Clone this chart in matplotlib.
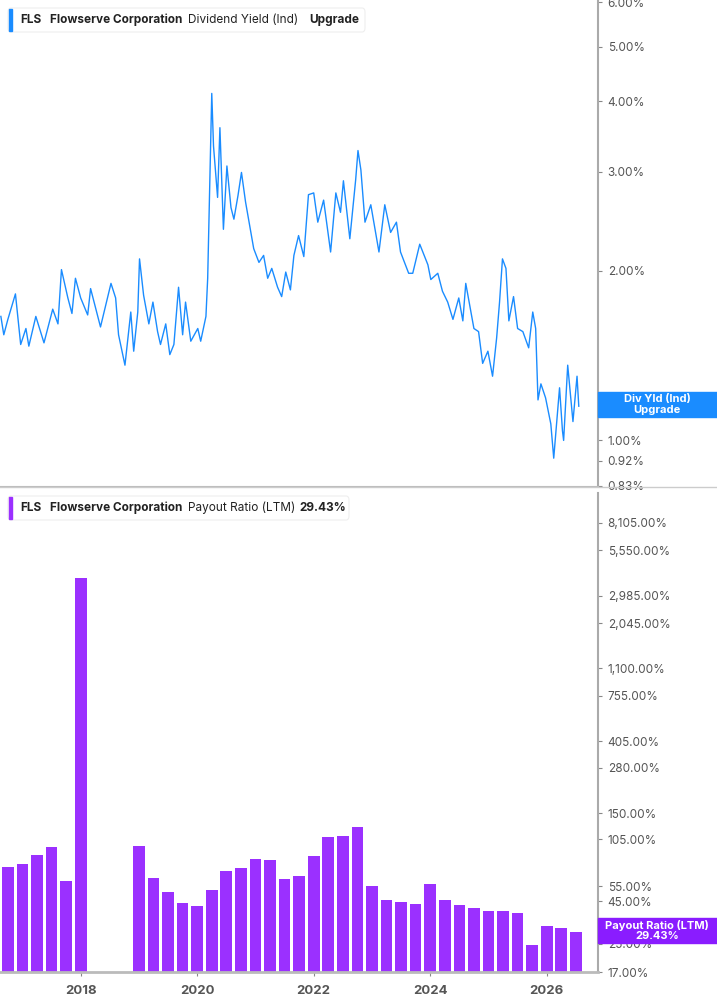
import matplotlib
matplotlib.use('Agg')
import matplotlib.pyplot as plt
from matplotlib.patches import Rectangle, FancyBboxPatch
import numpy as np

plt.rcParams['font.family'] = ['Inter', 'DejaVu Sans']

# dividend yield (%)
yld_dates = [16.63, 16.68, 16.75, 16.88, 16.97, 17.06, 17.11, 17.23, 17.37, 17.52, 17.61, 17.67, 17.78, 17.85,
             17.91, 18.00, 18.12, 18.17, 18.34, 18.52, 18.60, 18.65, 18.76, 18.86, 18.91, 18.98, 19.01, 19.08,
             19.17, 19.24, 19.32, 19.37, 19.46, 19.53, 19.60, 19.68, 19.75, 19.80, 19.89, 20.01, 20.06, 20.15,
             20.18, 20.21, 20.25, 20.28, 20.35, 20.39, 20.45, 20.51, 20.58, 20.63, 20.70, 20.76, 20.83, 20.90,
             20.97, 21.06, 21.14, 21.21, 21.28, 21.38, 21.45, 21.52, 21.60, 21.66, 21.74, 21.83, 21.91, 22.00,
             22.07, 22.17, 22.29, 22.38, 22.46, 22.51, 22.62, 22.72, 22.76, 22.81, 22.88, 22.98, 23.12, 23.22,
             23.32, 23.42, 23.49, 23.63, 23.70, 23.82, 23.96, 24.01, 24.13, 24.21, 24.30, 24.39, 24.49, 24.56,
             24.61, 24.75, 24.83, 24.90, 24.99, 25.07, 25.14, 25.19, 25.24, 25.30, 25.35, 25.43, 25.50, 25.59,
             25.69, 25.76, 25.81, 25.85, 25.90, 25.98, 26.07, 26.12, 26.19, 26.22, 26.27, 26.29, 26.36, 26.45,
             26.52, 26.55]
yld_vals = [1.66, 1.54, 1.64, 1.82, 1.48, 1.58, 1.47, 1.66, 1.49, 1.71, 1.61, 2.01, 1.79, 1.68,
            1.94, 1.79, 1.67, 1.86, 1.59, 1.90, 1.79, 1.54, 1.36, 1.69, 1.44, 1.69, 2.10, 1.81,
            1.61, 1.76, 1.56, 1.48, 1.61, 1.42, 1.48, 1.87, 1.54, 1.76, 1.50, 1.58, 1.50, 1.66,
            1.94, 2.68, 4.13, 3.33, 2.70, 3.59, 2.37, 3.07, 2.59, 2.47, 2.72, 2.99, 2.65, 2.41,
            2.19, 2.07, 2.13, 1.94, 2.02, 1.87, 1.80, 1.99, 1.85, 2.13, 2.31, 2.12, 2.73, 2.75,
            2.44, 2.67, 2.16, 2.75, 2.54, 2.89, 2.28, 2.90, 3.27, 3.02, 2.44, 2.62, 2.16, 2.62,
            2.34, 2.44, 2.16, 1.98, 1.98, 2.23, 2.05, 1.93, 1.98, 1.84, 1.76, 1.64, 1.79, 1.63,
            1.90, 1.58, 1.56, 1.37, 1.44, 1.30, 1.52, 1.76, 2.10, 2.02, 1.63, 1.80, 1.58, 1.56,
            1.46, 1.69, 1.58, 1.18, 1.26, 1.19, 1.07, 0.93, 1.14, 1.24, 1.04, 1.00, 1.36, 1.08,
            1.30, 1.15]

# payout ratio (LTM, %) per quarter
pay_dates = [16.50, 16.75, 17.00, 17.25, 17.50, 17.75, 18.00,
             19.00, 19.25, 19.50, 19.75, 20.00, 20.25, 20.50, 20.75, 21.00, 21.25, 21.50, 21.75,
             22.00, 22.25, 22.50, 22.75, 23.00, 23.25, 23.50, 23.75, 24.00, 24.25, 24.50, 24.75,
             25.00, 25.25, 25.50, 25.75, 26.00, 26.25, 26.50]
pay_vals = [39.5, 72.0, 74.3, 84.7, 94.5, 59.2, 3800.0,
            95.7, 62.0, 50.6, 43.6, 41.8, 52.3, 67.9, 70.3, 79.9, 79.1, 61.0, 63.6,
            83.4, 108.6, 109.7, 124.0, 55.5, 45.5, 44.3, 42.9, 56.6, 45.7, 42.4, 41.0,
            39.3, 39.3, 38.1, 24.5, 31.9, 30.9, 29.43]

yld_ticks = [0.83, 0.92, 1.00, 2.00, 3.00, 4.00, 5.00, 6.00]
pay_ticks = [17, 25, 45, 55, 105, 150, 280, 405, 755, 1100, 2045, 2985, 5550, 8105]
year_ticks = [2018, 2020, 2022, 2024, 2026]

W, H = 717, 1005
fig = plt.figure(figsize=(W / 100, H / 100), dpi=100)
blue = '#1a8cff'
purple = '#9b30ff'
grey = '#555555'
xl = (2016.615, 2026.88)

ax1 = fig.add_axes([0, 1 - 486 / H, 598 / W, 486 / H])
ax1.plot([2000 + d for d in yld_dates], yld_vals, color=blue, lw=1)
ax1.set_yscale('log')
ax1.set_ylim(0.83, 6.05)
ax1.set_xlim(*xl)

ax2 = fig.add_axes([0, 1 - 972 / H, 598 / W, 479 / H])
ax2.bar([2000 + d for d in pay_dates], pay_vals, width=0.2, color=purple, bottom=0.1)
ax2.set_yscale('log')
ax2.set_ylim(17, 12200)
ax2.set_xlim(*xl)

for ax, ticks, fmt in [(ax1, yld_ticks, '{:.2f}%'), (ax2, pay_ticks, '{:,.2f}%')]:
    ax.yaxis.tick_right()
    ax.set_yticks(ticks)
    ax.set_yticklabels([fmt.format(t) for t in ticks])
    ax.yaxis.set_minor_locator(matplotlib.ticker.NullLocator())
    ax.tick_params(axis='y', length=3, color='#888888', labelsize=8.5, labelcolor=grey, pad=4)
    for s in ['top', 'left']:
        ax.spines[s].set_visible(False)
    ax.spines['right'].set_color('#aaaaaa')
    ax.spines['bottom'].set_color('#bbbbbb')
    ax.spines['right'].set_linewidth(1.5)

ax1.set_xticks([])
ax2.set_xticks(year_ticks)
ax2.set_xticklabels([str(y) for y in year_ticks], fontweight='bold', color=grey, fontsize=9.5)
ax2.tick_params(axis='x', length=3, color='#888888', pad=6)
ax2.spines['bottom'].set_linewidth(2)

# thin separator across the full width
fig.add_artist(plt.Line2D([0, 1], [1 - 487 / H, 1 - 487 / H], color='#cccccc', lw=1))


def px(x, y):
    return x / W, 1 - y / H


# legend boxes
def legend(y, color, parts, width):
    fig.add_artist(FancyBboxPatch(px(8, y + 12), width / W, 24 / H, boxstyle='round,pad=0,rounding_size=0.004',
                                  transform=fig.transFigure, fc='white', ec='#eeeeee', lw=0.8))
    fig.add_artist(Rectangle(px(9, y + 11), 3 / W, 22 / H, transform=fig.transFigure, color=color))
    for x, txt, bold in parts:
        fig.text(*px(x, y), txt, fontsize=8.5, fontweight='bold' if bold else 'normal',
                 color='#222222', va='center')


legend(20, blue, [(20, 'FLS', True), (50, 'Flowserve Corporation', True),
                  (188, 'Dividend Yield (Ind)', False), (309, 'Upgrade', True)], 357)
legend(508, purple, [(20, 'FLS', True), (50, 'Flowserve Corporation', True),
                     (188, 'Payout Ratio (LTM)', False), (299, '29.43%', True)], 341)

# right-side value badges
fig.add_artist(Rectangle(px(598, 417), 119 / W, 25 / H, transform=fig.transFigure, color=blue))
fig.text(*px(657, 404.5), 'Div Yld (Ind)\nUpgrade', ha='center', va='center', color='white',
         fontsize=8, fontweight='bold', linespacing=1.05)
fig.add_artist(Rectangle(px(598, 943), 119 / W, 25 / H, transform=fig.transFigure, color='#8a1cff'))
fig.text(*px(657, 930.5), 'Payout Ratio (LTM)\n29.43%', ha='center', va='center', color='white',
         fontsize=8, fontweight='bold', linespacing=1.05)

fig.savefig('out.png', dpi=100)
